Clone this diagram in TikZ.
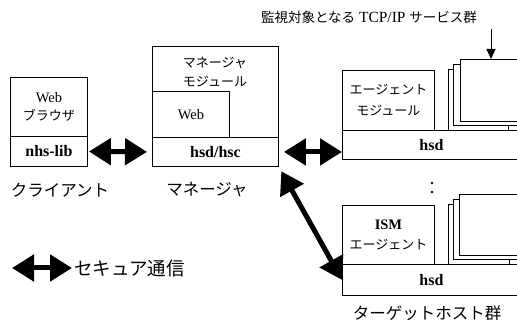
\documentclass[tikz,border=0pt]{standalone}
\usepackage{fontspec}
\setmainfont{Liberation Serif}
\newfontfamily\jpfont{Noto Sans CJK JP}
\usetikzlibrary{arrows.meta, calc}

\newcommand{\jp}[1]{{\jpfont\fontsize{13}{19}\selectfont #1}}

\begin{document}
\begin{tikzpicture}[x=1pt, y=-1pt,
    box/.style={draw, line width=0.9pt, anchor=north west, inner sep=0pt, align=center, font=\fontsize{14.5}{18.5}\selectfont},
    hsdbox/.style={box, font=\bfseries\fontsize{16}{19}\selectfont},
    page/.style={draw, line width=0.9pt, fill=white},
    secure/.style={{Triangle[length=22pt,width=26pt]}-{Triangle[length=22pt,width=26pt]}, line width=5pt},
    caption/.style={font=\jpfont\fontsize{16.5}{20}\selectfont}]
    \useasboundingbox (0,0) rectangle (517,320);
    \clip (0,0) rectangle (517,320);

    % Client
    \node[box, minimum width=77pt, minimum height=59pt] (cweb) at (10,77) {Web\\\jp{ブラウザ}};
    \node[hsdbox, minimum width=77pt, minimum height=30pt] (clib) at (10,136) {nhs-lib};

    % Manager
    \node[box, minimum width=126pt, minimum height=91pt] (mmod) at (152,46) {};
    \node[align=center, inner sep=0pt, font=\fontsize{13}{18.5}\selectfont] (mtext) at (215,72) {\jp{マネージャ}\\\jp{モジュール}};
    \node[box, minimum width=77pt, minimum height=46pt] (mweb) at (152,91) {Web};
    \node[hsdbox, minimum width=126pt, minimum height=29pt] (mhsd) at (152,137) {hsd/hsc};

    % Target host 1
    \draw[page] (448,69) rectangle (530,130);
    \draw[page] (453,64) rectangle (530,125);
    \draw[page] (460,59) rectangle (530,121);
    \draw[line width=0.9pt] (508,125) -- (508,130);
    \node[box, minimum width=92pt, minimum height=60pt, font=\fontsize{13}{21}\selectfont] (amod1) at (342,70) {\jp{エージェント}\\\jp{モジュール}};
    \node[hsdbox, minimum width=178pt, minimum height=29pt] (ahsd1) at (342,130) {hsd};

    % Target host 2
    \draw[page] (448,204) rectangle (530,264);
    \draw[page] (453,199) rectangle (530,259);
    \draw[page] (459,194) rectangle (530,255);
    \draw[line width=0.9pt] (509,259) -- (509,264);
    \node[box, minimum width=92pt, minimum height=59pt, font=\fontsize{14.5}{20}\selectfont] (amod2) at (342,205) {\textbf{ISM}\\\jp{エージェント}};
    \node[hsdbox, minimum width=178pt, minimum height=31pt] (ahsd2) at (342,264) {hsd};

    % Dots
    \fill (432,183) circle (1.3pt);
    \fill (432,192) circle (1.3pt);

    % Services
    \node[font=\fontsize{15.5}{19}\selectfont] (title) at (369,17) {{\jpfont\fontsize{13.5}{19}\selectfont 監視対象となる} TCP/IP {\jpfont\fontsize{13.5}{19}\selectfont サービス群}};
    \coordinate (svc) at (491,59);
    \draw[-{Triangle[length=10pt,width=9pt]}, line width=0.9pt, shorten <=2pt] (svc |- title.south) -- (svc);

    % Secure links
    \draw[secure, shorten <=1pt, shorten >=5pt] (clib.east) -- (mhsd.west);
    \draw[secure, shorten <=5pt] (mhsd.east) -- (mhsd.east -| ahsd1.west);
    \draw[secure, shorten <=5pt] (mhsd.south east) -- (ahsd2.west);

    % Captions
    \node[caption] (clabel) at (60,190) {クライアント};
    \node[caption] (mlabel) at (207,190) {マネージャ};
    \node[caption] (tlabel) at (427,313) {ターゲットホスト群};

    % Legend
    \coordinate (lgstart) at (12,268);
    \node[caption, anchor=west, inner sep=0pt, font=\jpfont\fontsize{18.5}{20}\selectfont] (legend) at (74,268) {セキュア通信};
    \draw[secure, shorten >=2pt] (lgstart) -- (legend.west);
\end{tikzpicture}
\end{document}
